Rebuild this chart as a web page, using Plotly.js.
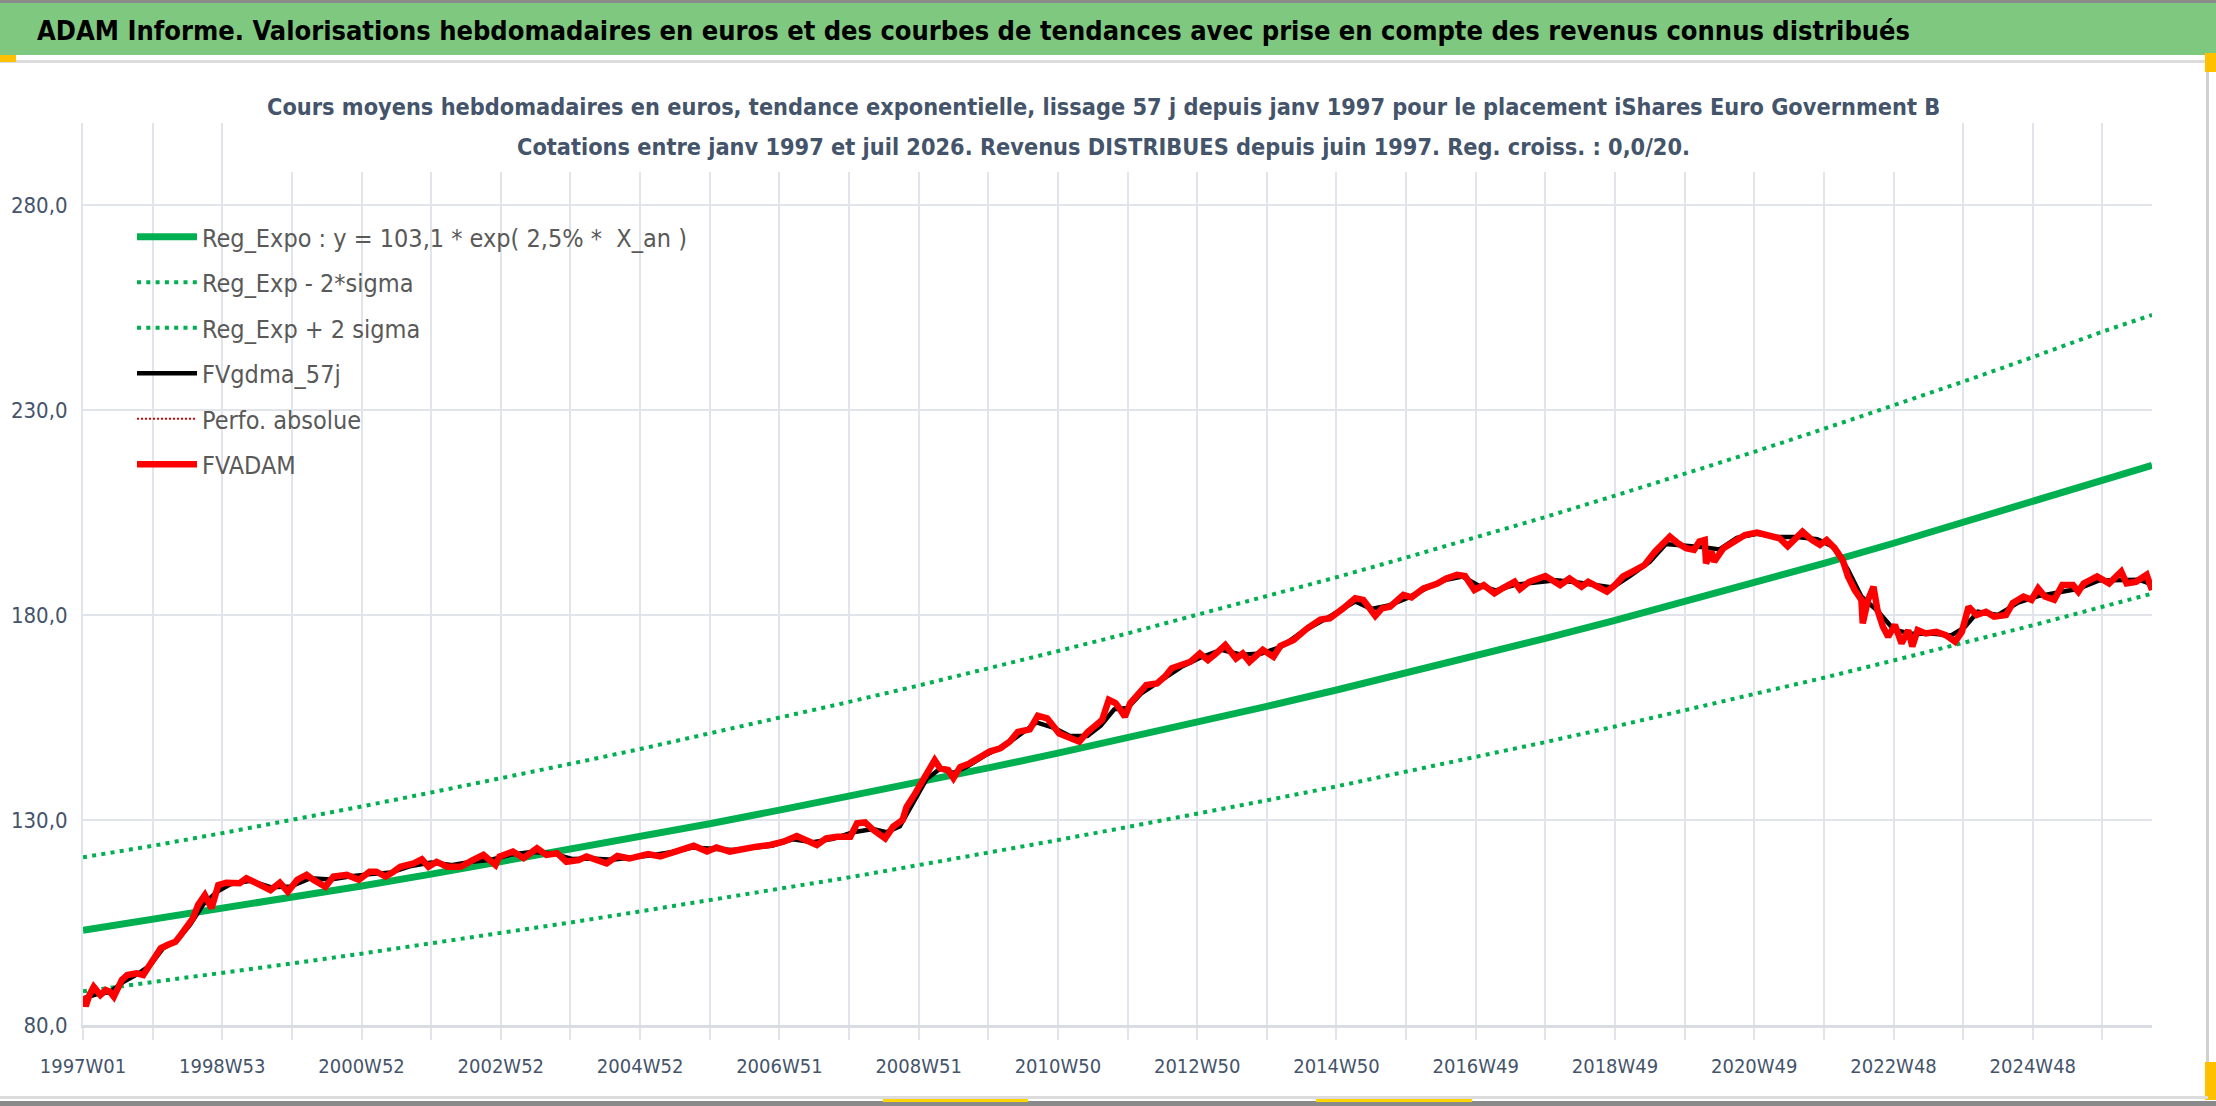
<!DOCTYPE html>
<html>
<head>
<meta charset="utf-8">
<script src="https://cdn.plot.ly/plotly-3.0.1.min.js"></script>
<style>
  html, body { margin: 0; padding: 0; background: #fff; }
  #chart { width: 2216px; height: 1106px; }
</style>
</head>
<body>
<div id="chart"></div>
<script>
// weekly index since 1997W01, labels every 104 weeks
const tickIdx = [0, 104, 208, 312, 416, 520, 624, 728, 832, 936, 1040, 1144, 1248, 1352, 1456]
const tickLabels = ['1997W01', '1998W53', '2000W52', '2002W52', '2004W52', '2006W51', '2008W51',
  '2010W50', '2012W50', '2014W50', '2016W49', '2018W49', '2020W49', '2022W48', '2024W48']

// regression curves read at each yearly gridline + last week
const regX = [0, 52, 104, 156, 208, 260, 312, 364, 416, 468, 520, 572, 624, 676, 728, 780,
  832, 884, 936, 988, 1040, 1092, 1144, 1196, 1248, 1300, 1352, 1404, 1456, 1508, 1545]
const regExpo = [103.1, 105.7, 108.4, 111.1, 113.9, 116.8, 119.8, 122.8, 125.9, 129.1, 132.4, 135.7,
  139.2, 142.7, 146.3, 150.0, 153.8, 157.7, 161.7, 165.8, 170.0, 174.3, 178.7, 183.2, 187.9, 192.6,
  197.5, 202.5, 207.6, 212.9, 216.5]
const regMinus = [88.2, 90.4, 92.7, 95.0, 97.4, 99.9, 102.4, 105.0, 107.7, 110.4, 113.2, 116.0,
  119.0, 122.0, 125.1, 128.3, 131.5, 134.8, 138.2, 141.8, 145.3, 149.0, 152.8, 156.7, 160.6, 164.7,
  168.9, 173.1, 177.5, 182.0, 185.2]
const regPlus = [120.9, 123.7, 126.8, 130.0, 133.3, 136.7, 140.1, 143.7, 147.3, 151.1, 154.9, 158.8,
  162.8, 166.9, 171.2, 175.5, 180.0, 184.5, 189.2, 194.0, 198.9, 203.9, 209.1, 214.4, 219.8, 225.4,
  231.1, 236.9, 242.9, 249.1, 253.2]

// FVADAM (weekly valuation, sampled)
const adamX = [0, 2, 5, 8, 13, 17, 20, 23, 29, 33, 40, 45, 49, 54, 58, 63, 69, 72, 77, 82, 86, 91, 96,
  101, 107, 117, 122, 127, 135, 140, 147, 153, 160, 167, 172, 181, 187, 197, 206, 214, 219, 226, 232,
  237, 247, 253, 258, 264, 272, 282, 291, 299, 308, 311, 321, 329, 339, 346, 354, 361, 370, 376, 391,
  399, 408, 422, 431, 446, 456, 466, 473, 483, 493, 503, 513, 523, 533, 540, 548, 555, 563, 573, 578,
  584, 590, 599, 605, 612, 615, 620, 625, 631, 636, 640, 646, 650, 655, 662, 670, 677, 685, 692, 698,
  707, 713, 720, 729, 737, 744, 750, 756, 761, 766, 771, 774, 778, 782, 789, 794, 802, 808, 813, 819,
  827, 834, 840, 846, 853, 861, 866, 871, 881, 889, 894, 904, 914, 924, 931, 941, 950, 956, 965, 970,
  976, 986, 992, 1001, 1011, 1018, 1026, 1032, 1039, 1046, 1054, 1060, 1069, 1073, 1080, 1092, 1103,
  1110, 1119, 1124, 1130, 1138, 1144, 1150, 1157, 1166, 1174, 1179, 1185, 1191, 1197, 1203, 1207,
  1211, 1212, 1216, 1218, 1225, 1232, 1241, 1250, 1258, 1267, 1273, 1278, 1284, 1291, 1297, 1302,
  1308, 1314, 1318, 1323, 1328, 1329, 1333, 1337, 1340, 1344, 1348, 1353, 1358, 1363, 1366, 1370,
  1376, 1384, 1391, 1398, 1403, 1408, 1414, 1421, 1427, 1436, 1441, 1449, 1455, 1460, 1465, 1472,
  1478, 1486, 1490, 1494, 1504, 1513, 1522, 1526, 1533, 1541, 1545]
const adamY = [87.0, 84.6, 87.5, 89.3, 87.3, 88.5, 88.1, 86.9, 91.0, 92.2, 92.6, 92.2, 94.2, 97.1,
  98.7, 99.5, 100.3, 101.5, 104.0, 106.0, 109.3, 111.7, 108.5, 114.1, 114.7, 114.6, 115.8, 115.0,
  113.3, 112.9, 114.7, 112.5, 115.4, 116.6, 115.4, 113.7, 116.2, 116.6, 115.4, 117.4, 117.4, 116.2,
  117.4, 118.6, 119.4, 120.4, 118.6, 119.8, 118.6, 118.6, 120.2, 121.5, 119.0, 121.1, 122.3, 120.7,
  123.1, 121.5, 121.9, 119.8, 120.2, 121.1, 119.4, 121.2, 120.6, 121.7, 121.1, 122.9, 123.7, 122.3,
  123.3, 122.3, 123.1, 123.5, 123.9, 124.7, 126.1, 125.1, 123.9, 125.5, 125.9, 125.9, 129.2, 129.4,
  127.6, 125.5, 128.4, 130.0, 133.2, 135.7, 138.5, 141.4, 144.6, 142.6, 142.2, 140.2, 142.9, 143.8,
  145.4, 146.7, 147.5, 149.1, 151.5, 152.1, 155.4, 154.8, 151.1, 149.9, 149.1, 151.4, 153.2, 154.4,
  159.3, 158.5, 157.2, 155.2, 158.5, 161.3, 162.9, 163.3, 165.0, 167.0, 167.8, 168.6, 170.6, 169.0,
  170.6, 172.7, 169.4, 170.6, 168.6, 171.5, 169.8, 172.4, 173.9, 176.7, 178.9, 179.2, 181.6, 184.1,
  183.7, 179.8, 181.6, 182.0, 184.9, 184.3, 186.5, 187.6, 188.9, 189.8, 189.5, 186.1, 187.3, 185.3,
  186.5, 188.1, 186.3, 188.1, 189.5, 187.3, 188.9, 186.9, 188.1, 187.0, 185.7, 187.3, 189.4, 190.6,
  192.2, 195.5, 197.1, 199.1, 197.5, 196.3, 195.9, 197.9, 198.3, 192.6, 195.5, 193.0, 196.3, 197.9,
  199.5, 200.1, 199.5, 198.7, 196.8, 198.5, 200.3, 198.3, 197.1, 198.3, 196.3, 193.4, 189.4, 186.1,
  183.7, 178.0, 183.7, 186.9, 181.2, 177.2, 174.7, 177.6, 173.1, 176.3, 172.3, 176.3, 175.5, 175.9,
  175.1, 173.5, 175.9, 182.0, 180.0, 180.8, 179.6, 180.0, 182.9, 184.5, 183.7, 186.5, 184.5, 183.7,
  187.3, 187.3, 185.7, 187.7, 189.4, 187.7, 190.6, 187.7, 188.1, 189.8, 186.1]

// FVgdma_57j (smoothed), sampled
const gdmaX = [0, 10, 20, 30, 40, 50, 60, 70, 80, 90, 100, 110, 125, 140, 155, 170, 185, 200, 215, 230,
  245, 260, 275, 290, 305, 320, 335, 350, 365, 380, 395, 410, 425, 440, 455, 470, 485, 500, 515, 530,
  545, 560, 575, 590, 600, 610, 620, 630, 640, 650, 660, 675, 690, 700, 712, 725, 737, 750, 760, 770,
  780, 790, 805, 820, 835, 850, 865, 880, 895, 910, 925, 940, 950, 962, 975, 990, 1005, 1018, 1030,
  1042, 1055, 1070, 1085, 1100, 1115, 1130, 1142, 1155, 1170, 1182, 1195, 1210, 1222, 1235, 1250,
  1265, 1280, 1295, 1308, 1318, 1328, 1340, 1352, 1365, 1380, 1395, 1405, 1415, 1430, 1445, 1460,
  1475, 1490, 1505, 1520, 1535, 1545]
const gdmaY = [86.5, 87.5, 88.0, 90.5, 92.3, 94.5, 98.8, 100.5, 104.5, 109.5, 112.5, 114.3, 115.2,
  113.6, 113.8, 115.8, 115.5, 116.3, 116.8, 117.2, 118.8, 119.6, 119.0, 119.8, 120.3, 121.6, 122.2,
  121.9, 120.5, 120.6, 120.3, 120.8, 121.4, 122.2, 123.3, 123.0, 122.7, 123.2, 123.8, 125.3, 124.6,
  125.4, 127.0, 127.8, 127.0, 128.5, 134.0, 140.0, 142.5, 141.5, 143.0, 146.0, 148.5, 151.0, 153.8,
  152.5, 150.5, 150.5, 153.0, 157.0, 157.3, 160.8, 164.0, 167.3, 169.7, 171.5, 170.3, 170.6, 172.3,
  175.8, 178.5, 181.2, 183.3, 181.5, 182.3, 184.3, 186.8, 188.6, 189.4, 187.2, 186.0, 187.4, 188.0,
  188.5, 188.0, 187.3, 186.7, 189.5, 193.0, 197.3, 197.0, 196.5, 196.0, 198.8, 199.8, 199.0, 199.0,
  198.5, 196.5, 191.0, 184.5, 181.0, 176.5, 175.4, 175.5, 175.0, 177.0, 180.8, 180.0, 183.0, 184.6,
  185.5, 186.4, 188.4, 188.4, 188.6, 187.5]

const FONT = '"Liberation Sans Narrow", "DejaVu Sans Condensed", "Arial Narrow", sans-serif'
const GREEN = '#00b050'
const GRID = '#e1e4ea'

// page geometry (plot area in pixels)
const W = 2216, H = 1106, ML = 83, MR = 64, MT = 123, MB = 81
const PW = W - ML - MR, PH = H - MT - MB
function px(X) { return (X - ML) / PW }
function py(Y) { return (H - MB - Y) / PH }

function box(x0, y0, x1, y1, color, layer) {
  return { type: 'rect', xref: 'paper', yref: 'paper', x0: px(x0), x1: px(x1), y0: py(y1), y1: py(y0),
    fillcolor: color, line: { width: 0 }, layer: layer || 'above' }
}

const traces = [
  { x: regX, y: regExpo, name: 'Reg_Expo : y = 103,1 * exp( 2,5% *  X_an )', legendgroup: 'a',
    mode: 'lines', line: { color: GREEN, width: 7 } },
  { x: regX, y: regMinus, name: 'Reg_Exp - 2*sigma', legendgroup: 'b',
    mode: 'lines', line: { color: GREEN, width: 4, dash: '4px,5.3px' } },
  { x: regX, y: regPlus, name: 'Reg_Exp + 2 sigma', legendgroup: 'c',
    mode: 'lines', line: { color: GREEN, width: 4, dash: '4px,5.3px' } },
  { x: gdmaX, y: gdmaY, name: 'FVgdma_57j', legendgroup: 'd',
    mode: 'lines', line: { color: '#000000', width: 4.5 } },
  { x: adamX, y: adamY, name: 'Perfo. absolue', legendgroup: 'e',
    mode: 'lines', line: { color: '#e00000', width: 2, dash: '2px,2px' } },
  { x: adamX, y: adamY, name: 'FVADAM', legendgroup: 'f',
    mode: 'lines', line: { color: '#ff0000', width: 6.5 } }
]

const layout = {
  width: W, height: H,
  margin: { l: ML, r: MR, t: MT, b: MB, pad: 0 },
  paper_bgcolor: '#ffffff', plot_bgcolor: '#ffffff',
  separators: ', ',
  font: { family: FONT, color: '#44546a' },
  showlegend: true,
  legend: { x: px(132), y: py(214), xanchor: 'left', yanchor: 'top', traceorder: 'grouped',
    tracegroupgap: 10, itemwidth: 60, bgcolor: 'rgba(0,0,0,0)',
    font: { family: FONT, size: 25, color: '#595959' } },
  xaxis: {
    range: [0, 1545], tickmode: 'array', tickvals: tickIdx, ticktext: tickLabels,
    showgrid: true, gridcolor: GRID, gridwidth: 2, zeroline: false,
    showline: true, linecolor: '#d9dce2', linewidth: 3,
    ticks: 'outside', ticklen: 12, tickcolor: GRID, tickwidth: 2, ticklabelstandoff: 9,
    tickfont: { family: FONT, size: 20, color: '#44546a' },
    minor: { tickmode: 'linear', tick0: 0, dtick: 52, showgrid: true, gridcolor: GRID, gridwidth: 2,
      ticks: 'outside', ticklen: 12, tickcolor: GRID, tickwidth: 2 }
  },
  yaxis: {
    range: [80, 300], tick0: 80, dtick: 50, tickformat: '.1f',
    showgrid: true, gridcolor: GRID, gridwidth: 2, zeroline: false,
    showline: true, linecolor: GRID, linewidth: 2, ticks: '', ticklabelstandoff: 9,
    tickfont: { family: FONT, size: 22, color: '#44546a' }
  },
  shapes: [
    box(0, 0, W, 3, '#8a8a8a'),
    box(0, 3, W, 55, '#7ec87f'),
    box(0, 60, 2208, 63, '#dcdcdc'),
    box(0, 55, 16, 62, '#ffc000'),
    box(2206, 62, 2209, 1098, '#d0d0d0'),
    box(2205, 53, 2216, 72, '#ffc000'),
    box(2205, 1062, 2216, 1100, '#ffc000'),
    box(0, 1096, 2208, 1099, '#dcdcdc'),
    box(0, 1101, W, H, '#8a8a8a'),
    box(883, 1099, 1028, 1102, '#ffd400'),
    box(1316, 1099, 1472, 1102, '#ffd400'),
    box(262, 88, 1945, 172, '#ffffff')
  ],
  annotations: [
    { xref: 'paper', yref: 'paper', x: px(35), y: py(30), xanchor: 'left', yanchor: 'middle',
      showarrow: false, font: { family: FONT, size: 27, color: '#000000' },
      text: '<b>ADAM Informe. Valorisations hebdomadaires en euros et des courbes de tendances avec prise en compte des revenus connus distribués</b>' },
    { xref: 'paper', yref: 'paper', x: px(1103), y: py(106), xanchor: 'center', yanchor: 'middle',
      showarrow: false, font: { family: FONT, size: 23.3, color: '#44546a' },
      text: '<b>Cours moyens hebdomadaires en euros, tendance exponentielle, lissage 57 j depuis janv 1997 pour le placement iShares Euro Government B</b>' },
    { xref: 'paper', yref: 'paper', x: px(1103), y: py(146), xanchor: 'center', yanchor: 'middle',
      showarrow: false, font: { family: FONT, size: 23.3, color: '#44546a' },
      text: '<b>Cotations entre janv 1997 et juil 2026. Revenus DISTRIBUES depuis juin 1997. Reg. croiss. : 0,0/20.</b>' }
  ]
}

Plotly.newPlot('chart', traces, layout, { displayModeBar: false, staticPlot: true })
</script>
</body>
</html>
